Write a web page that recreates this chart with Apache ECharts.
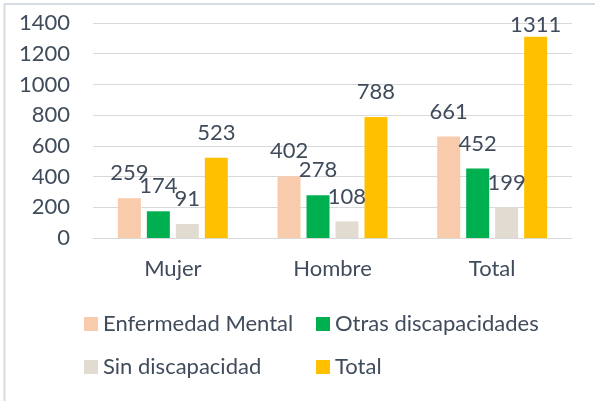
<!DOCTYPE html>
<html><head><meta charset="utf-8">
<script src="https://cdn.jsdelivr.net/npm/echarts@6/dist/echarts.min.js"></script>
<style>html,body{margin:0;padding:0;background:#fff}#c{width:595px;height:401px}</style>
</head><body><div id="c"></div>
<script>
const categories = ['Mujer', 'Hombre', 'Total'];
const seriesNames = ['Enfermedad Mental', 'Otras discapacidades', 'Sin discapacidad', 'Total'];
const enfermedadMental = [259, 402, 661];
const otrasDiscapacidades = [174, 278, 452];
const sinDiscapacidad = [91, 108, 199];
const totalValues = [523, 788, 1311];
const colors = ['#F8CBAD', '#00B050', '#E1DBD1', '#FFC000'];
const FONT = 'Lato';
const FS = 22;
const TXT = '#404C5C';

const chart = echarts.init(document.getElementById('c'), null, {renderer: 'canvas'});
const allData = [enfermedadMental, otrasDiscapacidades, sinDiscapacidad, totalValues];
chart.setOption({
  animation: false,
  color: colors,
  textStyle: {fontFamily: FONT},
  grid: {left: 93, right: 23, top: 23, bottom: 163, containLabel: false},
  graphic: [
    {type: 'line', shape: {x1: 4.5, y1: 4, x2: 4.5, y2: 401}, style: {stroke: '#D6DCE2', lineWidth: 2}},
    {type: 'line', shape: {x1: 4, y1: 4, x2: 595, y2: 4}, style: {stroke: '#D6DCE2', lineWidth: 2}}
  ],
  legend: [
    {data: [seriesNames[0], seriesNames[2]], orient: 'vertical', left: 79, top: 308, itemWidth: 14, itemHeight: 14, itemGap: 21,
     icon: 'rect', textStyle: {fontFamily: FONT, fontSize: FS, color: TXT}},
    {data: [seriesNames[1], seriesNames[3]], orient: 'vertical', left: 311, top: 308, itemWidth: 14, itemHeight: 14, itemGap: 21,
     icon: 'rect', textStyle: {fontFamily: FONT, fontSize: FS, color: TXT}}
  ],
  xAxis: {
    type: 'category', data: categories,
    axisLine: {show: true, lineStyle: {color: '#D9D9D9', width: 1}},
    axisTick: {show: false},
    axisLabel: {fontSize: FS, color: TXT, margin: 20, fontFamily: FONT}
  },
  yAxis: {
    type: 'value', min: 0, max: 1400, interval: 200,
    axisLine: {show: false}, axisTick: {show: false},
    splitLine: {lineStyle: {color: '#D9D9D9', width: 1}},
    axisLabel: {fontSize: FS, color: TXT, margin: 23, fontFamily: FONT, formatter: v => String(v)}
  },
  series: seriesNames.map((n, i) => ({
    name: n, type: 'bar', barWidth: 23, barGap: '26%',
    data: allData[i].map(v => v > 1200 ? {value: v, label: {distance: 1}} : v),
    itemStyle: {color: colors[i]},
    label: {show: true, position: 'top', distance: 14, fontSize: FS, color: TXT, fontFamily: FONT}
  }))
});
</script></body></html>
